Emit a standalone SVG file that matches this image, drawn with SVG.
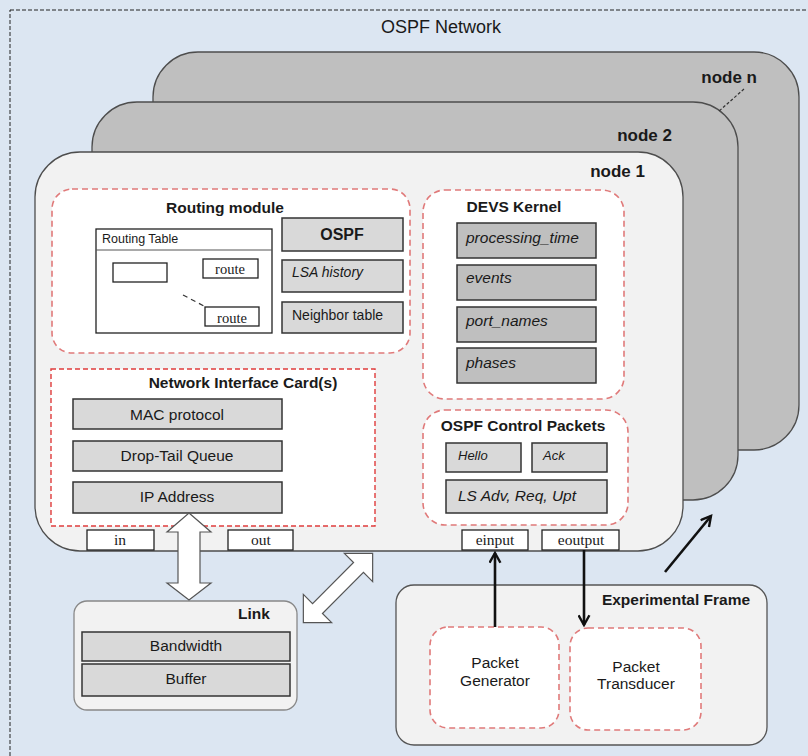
<svg xmlns="http://www.w3.org/2000/svg" width="808" height="756" viewBox="0 0 808 756">
<defs>
<style>
text{font-family:"Liberation Sans",Arial,sans-serif;fill:#1a1a1a}
.b{font-weight:bold;font-size:15.5px}
.r{font-size:15.5px}
.i{font-size:15.5px;font-style:italic}
.s{font-family:"Liberation Serif","Times New Roman",serif;font-size:15.5px}
.node{stroke:#4d4d4d;stroke-width:1.3}
.red{fill:#fff;stroke:#e07a7a;stroke-width:1.6;stroke-dasharray:6 4}
.g1{fill:#d9d9d9;stroke:#333;stroke-width:1.5}
.g2{fill:#bfbfbf;stroke:#333;stroke-width:1.5}
.wb{fill:#fff;stroke:#222;stroke-width:1.3}
.ar{fill:none;stroke:#111;stroke-width:2.6;marker-end:url(#ah)}
</style>
<marker id="ah" viewBox="0 0 12 12" refX="10" refY="6" markerWidth="5" markerHeight="5" orient="auto" markerUnits="strokeWidth">
<path d="M1,1 L10,6 L1,11" fill="none" stroke="#111" stroke-width="2.2"/>
</marker>
</defs>
<rect x="0" y="0" width="808" height="756" fill="#dce6f2"/>
<rect x="10" y="10" width="820" height="780" fill="none" stroke="#222" stroke-width="1" stroke-dasharray="4 2"/>
<text x="441" y="33" style="font-size:18px" text-anchor="middle">OSPF Network</text>

<g id="node-n">
<rect class="node" x="153" y="52" width="646" height="398" rx="45" fill="#bfbfbf"/>
<text x="757" y="83" text-anchor="end" style="font-weight:bold;font-size:17px">node n</text>
</g>
<g id="node-2">
<rect class="node" x="92" y="102" width="646" height="398" rx="45" fill="#bfbfbf"/>
<text x="672" y="141" text-anchor="end" style="font-weight:bold;font-size:17px">node 2</text>
</g>
<line x1="744" y1="89" x2="718" y2="112" stroke="#333" stroke-width="1.2" stroke-dasharray="3 2"/>

<g id="node-1">
<rect class="node" x="35" y="152" width="648" height="399" rx="45" fill="#f2f2f2"/>
<text x="645" y="177" text-anchor="end" style="font-weight:bold;font-size:17px">node 1</text>
</g>

<g id="routing-module">
<rect class="red" x="52" y="189" width="358" height="164" rx="20"/>
<text class="b" x="225" y="213" text-anchor="middle">Routing module</text>
<rect x="96" y="229" width="176" height="104" fill="#fff" stroke="#222" stroke-width="1.3"/>
<line x1="96" y1="250" x2="272" y2="250" stroke="#555" stroke-width="1"/>
<text x="102" y="243" style="font-size:12.5px">Routing Table</text>
<rect class="wb" x="113" y="263" width="54" height="19"/>
<rect class="wb" x="203" y="259" width="55" height="19"/>
<text class="s" x="230" y="274" text-anchor="middle" style="font-size:14.5px">route</text>
<rect class="wb" x="205" y="307" width="54" height="19"/>
<text class="s" x="232" y="323" text-anchor="middle" style="font-size:14.5px">route</text>
<line x1="183" y1="295" x2="204" y2="306" stroke="#333" stroke-width="1.2" stroke-dasharray="5 4"/>
<rect class="g1" x="282" y="218" width="121" height="33"/>
<text x="342" y="240" text-anchor="middle" style="font-size:16px;font-weight:bold">OSPF</text>
<rect class="g1" x="282" y="260" width="121" height="32"/>
<text class="i" x="292" y="277" style="font-size:14px">LSA history</text>
<rect class="g1" x="282" y="302" width="121" height="31"/>
<text class="r" x="292" y="320" style="font-size:14px">Neighbor table</text>
</g>

<g id="devs-kernel">
<rect class="red" x="423" y="190" width="201" height="209" rx="22"/>
<text class="b" x="514" y="212" text-anchor="middle">DEVS Kernel</text>
<rect class="g2" x="457" y="223" width="139" height="35"/>
<text class="i" x="466" y="243">processing_time</text>
<rect class="g2" x="457" y="265" width="139" height="35"/>
<text class="i" x="466" y="283">events</text>
<rect class="g2" x="457" y="307" width="139" height="35"/>
<text class="i" x="466" y="326">port_names</text>
<rect class="g2" x="457" y="348" width="139" height="35"/>
<text class="i" x="466" y="368">phases</text>
</g>

<g id="ospf-control-packets">
<rect class="red" x="423" y="410" width="205" height="115" rx="22"/>
<text class="b" x="523" y="431" text-anchor="middle">OSPF Control Packets</text>
<rect class="g1" x="446" y="443" width="75" height="29"/>
<text class="i" x="458" y="460" style="font-size:13px">Hello</text>
<rect class="g1" x="532" y="443" width="75" height="29"/>
<text class="i" x="543" y="460" style="font-size:13px">Ack</text>
<rect class="g1" x="446" y="480" width="161" height="33"/>
<text class="i" x="458" y="501">LS Adv, Req, Upt</text>
</g>

<g id="nic">
<rect x="51" y="369" width="324" height="157" fill="#fff" stroke="#e03c3c" stroke-width="1.4" stroke-dasharray="5 3"/>
<text class="b" x="243" y="388" text-anchor="middle">Network Interface Card(s)</text>
<rect class="g1" x="73" y="399" width="209" height="30"/>
<text class="r" x="177" y="420" text-anchor="middle">MAC protocol</text>
<rect class="g1" x="73" y="441" width="209" height="30"/>
<text class="r" x="177" y="461" text-anchor="middle">Drop-Tail Queue</text>
<rect class="g1" x="73" y="482" width="209" height="31"/>
<text class="r" x="177" y="502" text-anchor="middle">IP Address</text>
</g>

<g id="ports">
<rect class="wb" x="87" y="530" width="67" height="20"/>
<text class="s" x="120" y="545" text-anchor="middle">in</text>
<rect class="wb" x="228" y="530" width="65" height="20"/>
<text class="s" x="261" y="545" text-anchor="middle">out</text>
<rect class="wb" x="462" y="530" width="66" height="20"/>
<text class="s" x="495" y="545" text-anchor="middle">einput</text>
<rect class="wb" x="542" y="530" width="77" height="20"/>
<text class="s" x="581" y="545" text-anchor="middle">eoutput</text>
</g>

<g id="link">
<rect x="74" y="601" width="223" height="109" rx="13" fill="#f2f2f2" stroke="#888" stroke-width="1.3"/>
<text class="b" x="254" y="619" text-anchor="middle">Link</text>
<rect class="g1" x="82" y="632" width="208" height="29"/>
<text class="r" x="186" y="651" text-anchor="middle">Bandwidth</text>
<rect class="g1" x="82" y="664" width="208" height="32"/>
<text class="r" x="186" y="684" text-anchor="middle">Buffer</text>
</g>

<g id="experimental-frame">
<rect x="396" y="585" width="371" height="160" rx="18" fill="#f2f2f2" stroke="#555" stroke-width="1.3"/>
<text class="b" x="676" y="605" text-anchor="middle">Experimental Frame</text>
</g>
<g id="packet-generator">
<rect class="red" x="430" y="627" width="129" height="101" rx="18"/>
<text class="r" x="495" y="668" text-anchor="middle">Packet</text>
<text class="r" x="495" y="686" text-anchor="middle">Generator</text>
</g>
<g id="packet-transducer">
<rect class="red" x="570" y="628" width="131" height="102" rx="18"/>
<text class="r" x="636" y="672" text-anchor="middle">Packet</text>
<text class="r" x="636" y="689" text-anchor="middle">Transducer</text>
</g>

<g id="connectors">
<polygon points="189,513 211,532 200,532 200,583 211,583 189,600 167,583 178,583 178,532 167,532" fill="#fff" stroke="#555" stroke-width="1.2"/>
<polygon transform="translate(338,588) rotate(-45)" points="-49,0 -29,-20 -29,-7 29,-7 29,-20 49,0 29,20 29,7 -29,7 -29,20" fill="#fff" stroke="#555" stroke-width="1.2"/>
<line class="ar" x1="495" y1="627" x2="495" y2="553"/>
<line class="ar" x1="584" y1="550" x2="584" y2="625"/>
<line class="ar" x1="665" y1="572" x2="711" y2="516"/>
</g>
</svg>
